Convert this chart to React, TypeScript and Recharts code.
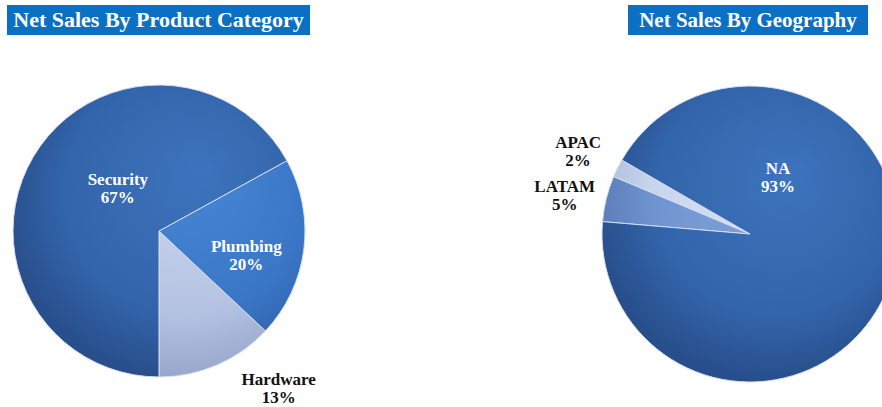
import { PieChart, Pie, Cell } from 'recharts'

// product category split
const PRODUCT_NAMES = ['Hardware', 'Plumbing', 'Security']
const PRODUCT_SHARE = [13, 20, 67]

// geography split
const GEO_NAMES = ['APAC', 'LATAM', 'NA']
const GEO_SHARE = [2, 5, 93]

const productData = PRODUCT_NAMES.map((name, i) => ({ name, value: PRODUCT_SHARE[i] }))
const geoData = GEO_NAMES.map((name, i) => ({ name, value: GEO_SHARE[i] }))

const SERIF = 'Liberation Serif, Tinos, Times New Roman, Times, DejaVu Serif, serif'

// label placement: radius factor + angle shift from slice mid angle
const productSpots: Record<string, { dr: number; da: number; color: string }> = {
  Hardware: { dr: 1.35, da: 14, color: '#111' },
  Plumbing: { dr: 0.62, da: -8, color: '#fff' },
  Security: { dr: 0.41, da: -16, color: '#fff' },
}
const geoSpots: Record<string, { dr: number; da: number; color: string }> = {
  APAC: { dr: 1.29, da: 0.6, color: '#111' },
  LATAM: { dr: 1.28, da: 1.8, color: '#111' },
  NA: { dr: 0.43, da: 81.2, color: '#fff' },
}

const makeLabel = (names: string[], spots: typeof productSpots) => (p: any) => {
  const name = names[p.index]
  const s = spots[name]
  const ang = ((p.midAngle + s.da) * Math.PI) / 180
  const r = p.outerRadius * s.dr
  const x = p.cx + r * Math.cos(ang)
  const y = p.cy - r * Math.sin(ang)
  return (
    <text x={x} y={y} textAnchor="middle" fill={s.color} fontFamily={SERIF} fontSize={17} fontWeight="bold">
      <tspan x={x} dy={-3}>{name}</tspan>
      <tspan x={x} dy={18}>{`${Math.round(p.percent * 100)}%`}</tspan>
    </text>
  )
}

function Title({ text, left, width, size }: { text: string; left: number; width: number; size: number }) {
  return (
    <div
      style={{
        position: 'absolute', left, top: 5, width, height: 30,
        background: '#0b70c3', color: '#fff', fontFamily: SERIF,
        fontWeight: 'bold', fontSize: size, lineHeight: '30px', textAlign: 'center',
        whiteSpace: 'nowrap',
      }}
    >
      {text}
    </div>
  )
}

function Grad({ id, cx, cy, light, base, dark }: { id: string; cx: number; cy: number; light: string; base: string; dark: string }) {
  return (
    <radialGradient id={id} gradientUnits="userSpaceOnUse" cx={cx + 20} cy={cy - 30} r={175} fx={cx + 40} fy={cy - 60}>
      <stop offset="0%" stopColor={light} />
      <stop offset="70%" stopColor={base} />
      <stop offset="100%" stopColor={dark} />
    </radialGradient>
  )
}

export default function App() {
  const W = 882
  const H = 407
  const L = { cx: 159, cy: 231 }
  const R = { cx: 750, cy: 234 }
  return (
    <div style={{ position: 'absolute', left: 0, top: 0, width: W, height: H, background: '#fff', overflow: 'hidden' }}>
      <svg width={0} height={0} style={{ position: 'absolute' }}>
        <defs>
          <Grad id="gSec" cx={L.cx} cy={L.cy} light="#3d74bd" base="#3264aa" dark="#284f8c" />
          <Grad id="gPlu" cx={L.cx} cy={L.cy} light="#4787d6" base="#3a76c6" dark="#2f62a8" />
          <Grad id="gHar" cx={L.cx} cy={L.cy} light="#ced8ee" base="#b4c2e2" dark="#98a8cc" />
          <Grad id="gNA" cx={R.cx} cy={R.cy} light="#3d74bd" base="#3264aa" dark="#284f8c" />
          <Grad id="gLat" cx={R.cx} cy={R.cy} light="#86a9dc" base="#6f94d0" dark="#5a7cb8" />
          <Grad id="gApa" cx={R.cx} cy={R.cy} light="#dfe7f5" base="#c8d5ee" dark="#aebcdc" />
        </defs>
      </svg>
      <PieChart width={W} height={H} margin={{ top: 0, right: 0, bottom: 0, left: 0 }} style={{ position: 'absolute', left: 0, top: 0 }}>
        <Pie
          data={productData}
          dataKey="value"
          nameKey="name"
          cx={L.cx}
          cy={L.cy}
          outerRadius={146}
          startAngle={-90}
          endAngle={270}
          stroke="#d6deee"
          strokeWidth={1}
          labelLine={false}
          label={makeLabel(PRODUCT_NAMES, productSpots)}
          isAnimationActive={false}
        >
          {['gHar', 'gPlu', 'gSec'].map((g) => (
            <Cell key={g} fill={`url(#${g})`} />
          ))}
        </Pie>
        <Pie
          data={geoData}
          dataKey="value"
          nameKey="name"
          cx={R.cx}
          cy={R.cy}
          outerRadius={148}
          startAngle={150}
          endAngle={510}
          stroke="#d6deee"
          strokeWidth={1}
          labelLine={false}
          label={makeLabel(GEO_NAMES, geoSpots)}
          isAnimationActive={false}
        >
          {['gApa', 'gLat', 'gNA'].map((g) => (
            <Cell key={g} fill={`url(#${g})`} />
          ))}
        </Pie>
      </PieChart>
      <Title text="Net Sales By Product Category" left={7} width={303} size={22} />
      <Title text="Net Sales By Geography" left={628} width={240} size={21} />
    </div>
  )
}
